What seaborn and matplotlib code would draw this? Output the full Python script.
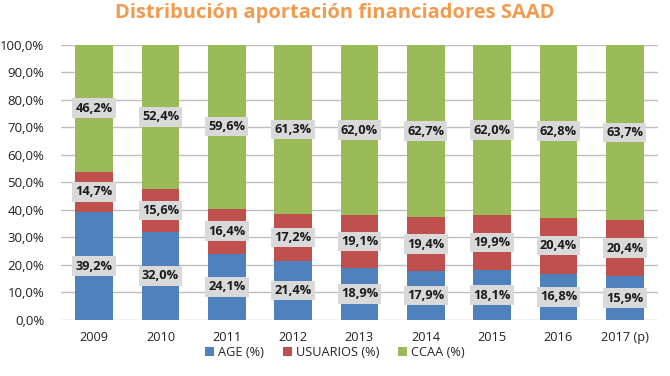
import matplotlib
matplotlib.use("Agg")
import matplotlib.pyplot as plt
import seaborn as sns
import pandas as pd
import numpy as np
from matplotlib.patches import Patch

years = ["2009", "2010", "2011", "2012", "2013", "2014", "2015", "2016", "2017 (p)"]
age = [39.2, 32.0, 24.1, 21.4, 18.9, 17.9, 18.1, 16.8, 15.9]
usuarios = [14.7, 15.6, 16.4, 17.2, 19.1, 19.4, 19.9, 20.4, 20.4]
ccaa = [46.2, 52.4, 59.6, 61.3, 62.0, 62.7, 62.0, 62.8, 63.7]
series_names = ["AGE (%)", "USUARIOS (%)", "CCAA (%)"]
colors = ["#4F81BD", "#C0504D", "#9BBB59"]

sns.set_theme(style="white")
plt.rcParams["font.family"] = ["Open Sans", "DejaVu Sans"]

df = pd.DataFrame({"year": years, "age": age, "usu": usuarios, "ccaa": ccaa})
df["c1"] = df["age"]
df["c2"] = df["age"] + df["usu"]
df["c3"] = df["c2"] + df["ccaa"]

fig = plt.figure(figsize=(6.7, 3.76), dpi=100)
ax = fig.add_axes([0.091, 0.149, 0.891, 0.732])

for col, c in zip(["c3", "c2", "c1"], colors[::-1]):
    sns.barplot(data=df, x="year", y=col, color=c, width=0.57, ax=ax,
                saturation=1, edgecolor="none", linewidth=0, zorder=2)

bbox = dict(boxstyle="square,pad=0.25", facecolor="#D9D9D9", edgecolor="none")
for i in range(len(years)):
    bottoms = [0, df["c1"][i], df["c2"][i]]
    vals = [age[i], usuarios[i], ccaa[i]]
    for b, v in zip(bottoms, vals):
        ax.text(i, b + v / 2, f"{v:.1f}%".replace(".", ","), ha="center", va="center",
                fontsize=9.2, fontweight="bold", color="#1a1a1a", bbox=bbox, zorder=5)

ax.set_ylim(0, 100)
ax.set_xlim(-0.5, len(years) - 0.5)
ax.set_yticks(np.arange(0, 101, 10))
ax.set_yticklabels([f"{v:.1f}%".replace(".", ",") for v in np.arange(0, 101, 10)])
ax.yaxis.grid(True, color="#BFBFBF", linewidth=1)
ax.set_axisbelow(True)
for s in ax.spines.values():
    s.set_visible(False)
ax.tick_params(axis="both", length=0, colors="#222222")
ax.tick_params(axis="y", labelsize=9.5, pad=12)
ax.tick_params(axis="x", labelsize=9.2, pad=8)
ax.set_xlabel("")
ax.set_ylabel("")

fig.text(0.5, 0.965, "Distribución aportación financiadores SAAD", ha="center", va="center",
         fontsize=14.5, fontweight="bold", color="#F29B4E")

handles = [Patch(facecolor=c, edgecolor="none") for c in colors]
fig.legend(handles, series_names, loc="center", bbox_to_anchor=(0.5, 0.062), ncol=3,
           frameon=False, fontsize=9.2, handlelength=0.7, handleheight=0.7,
           handletextpad=0.3, columnspacing=1.5)

fig.savefig("out.png", dpi=100)
